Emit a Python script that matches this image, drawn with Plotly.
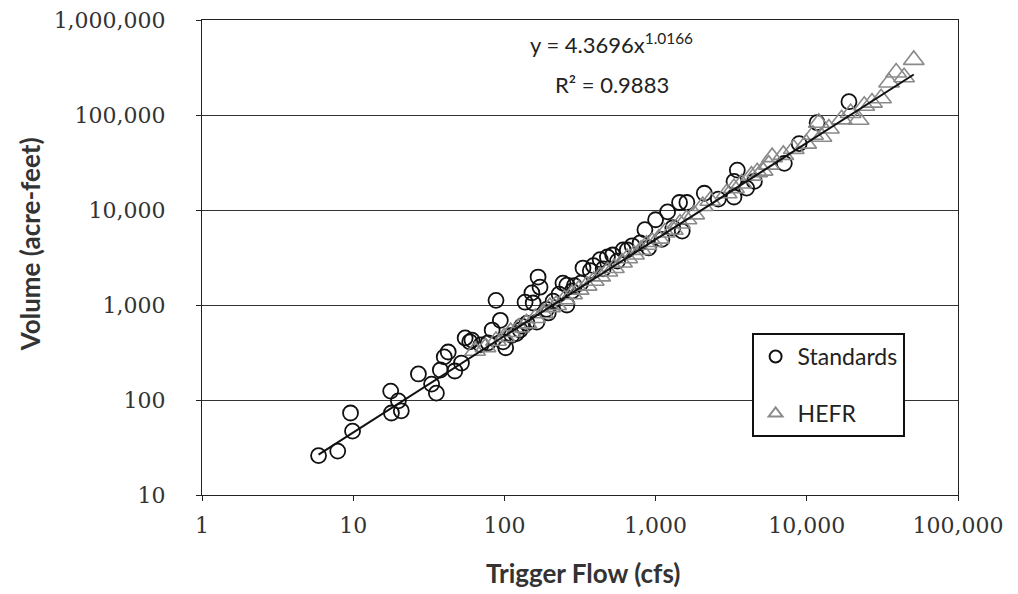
import plotly.graph_objects as go

# Standards (circles): trigger flow (cfs), volume (acre-feet)
std_flow = [5.9, 7.9, 9.6, 9.9, 17.7, 17.9, 19.9, 20.8, 27, 33, 35.5, 37.7, 40, 42.5, 47, 52, 55,
            59, 61, 70, 78, 83, 88, 94, 98, 102, 112, 120, 127, 130, 137, 141, 152, 155, 164, 167,
            172, 190, 195, 210, 230, 244, 259, 259, 280, 290, 320, 331, 370, 388, 430, 450, 480,
            520, 560, 610, 650, 700, 790, 850, 900, 1000, 1100, 1200, 1300, 1440, 1500, 1610,
            2100, 2600, 3300, 3300, 3470, 4000, 4500, 7100, 8900, 11700, 19000]
std_vol = [26, 29, 73, 47, 124, 73, 98, 77, 188, 147, 118, 207, 284, 320, 202, 245, 450,
           410, 427, 380, 400, 545, 1120, 690, 410, 355, 480, 500, 545, 600, 1070, 645, 1340, 1050, 660, 1970,
           1540, 900, 825, 1100, 1300, 1700, 1620, 1000, 1400, 1600, 1700, 2450, 2300, 2600, 3000, 2400, 3200,
           3360, 2900, 3800, 3800, 4200, 4500, 6200, 4000, 7900, 4900, 9550, 6500, 12000, 6000, 12000,
           15000, 13000, 13700, 20000, 26300, 17000, 20000, 31000, 50000, 83000, 138000]

# HEFR (triangles)
hefr_flow = [64, 75, 88, 100, 110, 125, 140, 160, 180, 200, 220, 250, 280, 310, 350, 390, 430, 480,
             530, 600, 650, 720, 800, 870, 950, 1050, 1150, 1300, 1450, 1600, 1800, 2050, 2300, 2950,
             3300, 3700, 4300, 4700, 5100, 5600, 5900, 7000, 8200, 9900, 11000, 12000, 12500, 14000,
             17000, 19500, 22000, 24000, 27000, 31000, 35000, 39000, 44000, 51000]
hefr_vol = [330, 360, 420, 460, 520, 580, 640, 730, 820, 950, 1000, 1150, 1300, 1450, 1600, 1800, 2000,
            2250, 2450, 2800, 3100, 3400, 3800, 4300, 4600, 5000, 5800, 6200, 7200, 8000, 9000, 11000,
            12500, 15000, 17000, 19000, 23000, 25000, 26000, 30000, 36000, 38000, 44000, 50000, 62000,
            83000, 59000, 72000, 90000, 105000, 89000, 125000, 135000, 150000, 220000, 280000, 250000,
            380000]

# Power trendline fitted to the data
coef_a = 4.3696
coef_b = 1.0166
trend_flow = [5.9, 51000]
trend_vol = [coef_a * q ** coef_b for q in trend_flow]

x_ticks = [1, 10, 100, 1000, 10000, 100000]
x_labels = ["1", "10", "100", "1,000", "10,000", "100,000"]
y_ticks = [10, 100, 1000, 10000, 100000, 1000000]
y_labels = ["10", "100", "1,000", "10,000", "100,000", "1,000,000"]

fig = go.Figure()
fig.add_trace(go.Scatter(
    x=std_flow, y=std_vol, mode="markers", name="Standards", legendgroup="s",
    marker=dict(symbol="circle-open", size=15, color="#111111", line=dict(width=1.8, color="#111111")),
))
fig.add_trace(go.Scatter(
    x=hefr_flow, y=hefr_vol, mode="markers", name="HEFR", legendgroup="h",
    marker=dict(symbol="triangle-up-open", size=18, color="#8a8a8a", line=dict(width=1.6, color="#8a8a8a")),
))
fig.add_trace(go.Scatter(
    x=trend_flow, y=trend_vol, mode="lines", showlegend=False,
    line=dict(color="#111111", width=2),
))

fig.add_annotation(xref="paper", yref="paper", x=0.542, y=0.951, xanchor="center", yanchor="middle",
                   text="y = 4.3696x<sup>1.0166</sup>", showarrow=False,
                   font=dict(family="Lato", size=22, color="#222222"))
fig.add_annotation(xref="paper", yref="paper", x=0.542, y=0.865, xanchor="center", yanchor="middle",
                   text="R² = 0.9883", showarrow=False,
                   font=dict(family="Lato", size=22, color="#222222"))
# axis titles
fig.add_annotation(xref="paper", yref="paper", x=-0.2275, y=0.528, xanchor="center", yanchor="middle",
                   text="<b>Volume (acre-feet)</b>", textangle=-90, showarrow=False,
                   font=dict(family="Lato", size=26, color="#333333"))
fig.add_annotation(xref="paper", yref="paper", x=0.504, y=-0.164, xanchor="center", yanchor="middle",
                   text="<b>Trigger Flow (cfs)</b>", showarrow=False,
                   font=dict(family="Lato", size=26, color="#333333"))

fig.update_layout(
    width=1018, height=594,
    margin=dict(l=194, r=68, t=12, b=107),
    paper_bgcolor="white", plot_bgcolor="white",
    showlegend=True,
    legend=dict(x=0.727, y=0.341, xanchor="left", yanchor="top",
                bordercolor="#111111", borderwidth=2, bgcolor="white",
                font=dict(family="Lato", size=23, color="#222222"),
                tracegroupgap=24, itemsizing="constant", itemwidth=34),
)
fig.update_xaxes(
    type="log", range=[0, 5], tickvals=x_ticks, ticktext=x_labels,
    showgrid=False, showline=True, linecolor="#222222", linewidth=1, mirror=True,
    ticks="outside", ticklen=5, tickcolor="#222222",
    tickfont=dict(family="DejaVu Serif", size=22, color="#333333"),
    ticklabelstandoff=6, ticklabeloverflow="allow", automargin=False,
)
fig.update_yaxes(
    type="log", range=[1, 6], tickvals=y_ticks, ticktext=y_labels,
    showgrid=True, gridcolor="#333333", gridwidth=1,
    showline=True, linecolor="#222222", linewidth=1, mirror=True,
    ticks="outside", ticklen=5, tickcolor="#222222",
    tickfont=dict(family="DejaVu Serif", size=22, color="#333333"),
    ticklabelstandoff=26, ticklabeloverflow="allow", automargin=False,
)

fig.write_html("out.html")
